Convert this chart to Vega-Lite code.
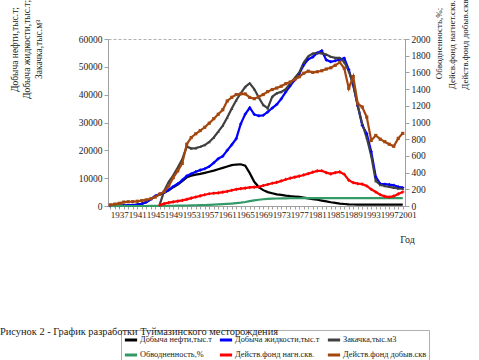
{
  "$schema": "https://vega.github.io/schema/vega-lite/v6.json",
  "width": 297,
  "height": 167,
  "autosize": "none",
  "padding": {"left": 108, "top": 39, "right": 74, "bottom": 154},
  "background": "white",
  "config": {
    "font": "Liberation Serif",
    "view": {"stroke": "#b0b0b0", "strokeDash": [3, 2]}
  },
  "title": {
    "text": "Рисунок 2 - График разработки Туймазинского месторождения",
    "orient": "bottom",
    "anchor": "start",
    "frame": "group",
    "font": "Liberation Serif",
    "fontSize": 10.4,
    "fontWeight": "normal",
    "color": "#222222",
    "dx": -108,
    "dy": -37,
    "offset": 0
  },
  "data": {
    "values": [
      {"y": 1937, "a": 50, "b": 50, "c": null, "d": 0, "e": null, "f": 14},
      {"y": 1938, "a": 80, "b": 80, "c": null, "d": 0, "e": null, "f": 22},
      {"y": 1939, "a": 100, "b": 100, "c": null, "d": 0, "e": null, "f": 32},
      {"y": 1940, "a": 140, "b": 150, "c": null, "d": 0, "e": null, "f": 47},
      {"y": 1941, "a": 190, "b": 200, "c": null, "d": 0, "e": null, "f": 51},
      {"y": 1942, "a": 260, "b": 280, "c": null, "d": 0, "e": null, "f": 52},
      {"y": 1943, "a": 470, "b": 500, "c": null, "d": 0, "e": null, "f": 57},
      {"y": 1944, "a": 760, "b": 800, "c": null, "d": 0, "e": null, "f": 64},
      {"y": 1945, "a": 1350, "b": 1400, "c": null, "d": 0, "e": null, "f": 73},
      {"y": 1946, "a": 2400, "b": 2500, "c": null, "d": 1, "e": null, "f": 86},
      {"y": 1947, "a": 3450, "b": 3600, "c": null, "d": 1, "e": null, "f": 107},
      {"y": 1948, "a": 4150, "b": 4300, "c": 600, "d": 2, "e": 10, "f": 142},
      {"y": 1949, "a": 4750, "b": 4900, "c": 5500, "d": 2, "e": 28, "f": 172},
      {"y": 1950, "a": 5600, "b": 5800, "c": 8700, "d": 3, "e": 40, "f": 240},
      {"y": 1951, "a": 6750, "b": 7000, "c": 11000, "d": 3, "e": 50, "f": 340},
      {"y": 1952, "a": 7700, "b": 8000, "c": 13800, "d": 4, "e": 58, "f": 420},
      {"y": 1953, "a": 8900, "b": 9300, "c": 16800, "d": 5, "e": 68, "f": 510},
      {"y": 1954, "a": 10300, "b": 10800, "c": 21300, "d": 6, "e": 80, "f": 740},
      {"y": 1955, "a": 10900, "b": 11600, "c": 20700, "d": 7, "e": 95, "f": 820},
      {"y": 1956, "a": 11250, "b": 12300, "c": 20800, "d": 9, "e": 108, "f": 865},
      {"y": 1957, "a": 11550, "b": 12900, "c": 21300, "d": 10, "e": 122, "f": 903},
      {"y": 1958, "a": 11900, "b": 13400, "c": 21900, "d": 12, "e": 135, "f": 943},
      {"y": 1959, "a": 12300, "b": 14200, "c": 23000, "d": 14, "e": 147, "f": 992},
      {"y": 1960, "a": 12700, "b": 15500, "c": 24600, "d": 16, "e": 153, "f": 1046},
      {"y": 1961, "a": 13200, "b": 17000, "c": 26700, "d": 19, "e": 158, "f": 1099},
      {"y": 1962, "a": 13700, "b": 17900, "c": 28900, "d": 22, "e": 166, "f": 1153},
      {"y": 1963, "a": 14200, "b": 20000, "c": 31800, "d": 25, "e": 175, "f": 1258},
      {"y": 1964, "a": 14700, "b": 22000, "c": 35000, "d": 29, "e": 188, "f": 1302},
      {"y": 1965, "a": 14900, "b": 24200, "c": 38000, "d": 34, "e": 200, "f": 1335},
      {"y": 1966, "a": 15000, "b": 29500, "c": 40500, "d": 40, "e": 208, "f": 1342},
      {"y": 1967, "a": 14500, "b": 33000, "c": 42800, "d": 48, "e": 215, "f": 1342},
      {"y": 1968, "a": 11800, "b": 35300, "c": 44100, "d": 58, "e": 222, "f": 1300},
      {"y": 1969, "a": 8700, "b": 32900, "c": 42000, "d": 67, "e": 226, "f": 1285},
      {"y": 1970, "a": 6800, "b": 32400, "c": 39000, "d": 75, "e": 230, "f": 1308},
      {"y": 1971, "a": 5700, "b": 32600, "c": 36300, "d": 81, "e": 245, "f": 1335},
      {"y": 1972, "a": 5000, "b": 33800, "c": 35100, "d": 85, "e": 258, "f": 1370},
      {"y": 1973, "a": 4600, "b": 35200, "c": 39300, "d": 88, "e": 272, "f": 1395},
      {"y": 1974, "a": 4200, "b": 36500, "c": 40500, "d": 90, "e": 283, "f": 1413},
      {"y": 1975, "a": 4000, "b": 38500, "c": 41000, "d": 91, "e": 300, "f": 1435},
      {"y": 1976, "a": 3750, "b": 41000, "c": 42000, "d": 92, "e": 318, "f": 1465},
      {"y": 1977, "a": 3550, "b": 43200, "c": 44000, "d": 93, "e": 333, "f": 1485},
      {"y": 1978, "a": 3400, "b": 45300, "c": 46000, "d": 93, "e": 345, "f": 1515},
      {"y": 1979, "a": 3250, "b": 47500, "c": 48000, "d": 93, "e": 357, "f": 1548},
      {"y": 1980, "a": 3000, "b": 50700, "c": 51500, "d": 94, "e": 372, "f": 1590},
      {"y": 1981, "a": 2750, "b": 52700, "c": 53800, "d": 94, "e": 388, "f": 1615},
      {"y": 1982, "a": 2500, "b": 53500, "c": 54800, "d": 94, "e": 405, "f": 1600},
      {"y": 1983, "a": 2250, "b": 55000, "c": 55000, "d": 94, "e": 420, "f": 1608},
      {"y": 1984, "a": 1950, "b": 55800, "c": 54900, "d": 94, "e": 422, "f": 1620},
      {"y": 1985, "a": 1650, "b": 52500, "c": 54400, "d": 94, "e": 400, "f": 1640},
      {"y": 1986, "a": 1350, "b": 51800, "c": 53600, "d": 94, "e": 385, "f": 1655},
      {"y": 1987, "a": 1100, "b": 52200, "c": 53200, "d": 94, "e": 400, "f": 1685},
      {"y": 1988, "a": 850, "b": 52600, "c": 53200, "d": 94, "e": 408, "f": 1720},
      {"y": 1989, "a": 720, "b": 53100, "c": 51700, "d": 94, "e": 380, "f": 1650},
      {"y": 1990, "a": 600, "b": 49000, "c": 48500, "d": 94, "e": 310, "f": 1410},
      {"y": 1991, "a": 540, "b": 43500, "c": 43500, "d": 94, "e": 280, "f": 1550},
      {"y": 1992, "a": 500, "b": 36000, "c": 36000, "d": 94, "e": 268, "f": 1225},
      {"y": 1993, "a": 480, "b": 29000, "c": 29500, "d": 94, "e": 262, "f": 1185},
      {"y": 1994, "a": 480, "b": 26000, "c": 24500, "d": 94, "e": 240, "f": 1065},
      {"y": 1995, "a": 480, "b": 19500, "c": 18000, "d": 94, "e": 200, "f": 785},
      {"y": 1996, "a": 480, "b": 10500, "c": 9000, "d": 94, "e": 168, "f": 845},
      {"y": 1997, "a": 480, "b": 8000, "c": 7600, "d": 94, "e": 135, "f": 800},
      {"y": 1998, "a": 480, "b": 7850, "c": 7200, "d": 94, "e": 115, "f": 770},
      {"y": 1999, "a": 480, "b": 7700, "c": 6900, "d": 94, "e": 107, "f": 740},
      {"y": 2000, "a": 480, "b": 7450, "c": 6600, "d": 94, "e": 118, "f": 715},
      {"y": 2001, "a": 480, "b": 6900, "c": 6300, "d": 94, "e": 145, "f": 810},
      {"y": 2002, "a": 480, "b": 6600, "c": 6200, "d": 94, "e": 168, "f": 870}
    ]
  },
  "transform": [{"fold": ["a", "b", "c", "d", "e", "f"], "as": ["k", "v"]}],
  "encoding": {
    "x": {
      "field": "y",
      "type": "quantitative",
      "scale": {"domain": [1936.5, 2002.5], "nice": false, "zero": false},
      "axis": {
        "title": "Год",
        "titleX": 299,
        "titleY": 36,
        "titleAlign": "center",
        "titleBaseline": "alphabetic",
        "titleFont": "Liberation Serif",
        "titleFontSize": 10,
        "titleFontWeight": "normal",
        "titleColor": "#222222",
        "values": [1937,1938,1939,1940,1941,1942,1943,1944,1945,1946,1947,1948,1949,1950,1951,1952,1953,1954,1955,1956,1957,1958,1959,1960,1961,1962,1963,1964,1965,1966,1967,1968,1969,1970,1971,1972,1973,1974,1975,1976,1977,1978,1979,1980,1981,1982,1983,1984,1985,1986,1987,1988,1989,1990,1991,1992,1993,1994,1995,1996,1997,1998,1999,2000,2001,2002],
        "labelExpr": "(datum.value - 1937) % 4 == 0 ? '' + datum.value : ''",
        "labelAlign": "left",
        "labelFont": "Liberation Serif",
        "labelFontSize": 9,
        "labelColor": "#222222",
        "labelOverlap": false,
        "labelFlush": false,
        "labelBound": false,
        "labelPadding": 1,
        "tickSize": 3,
        "tickColor": "#a0a0a0",
        "domainColor": "#a0a0a0",
        "grid": false
      }
    }
  },
  "layer": [
    {
      "transform": [{"filter": {"field": "k", "oneOf": ["a", "b", "c"]}}],
      "encoding": {
        "y": {
          "field": "v",
          "type": "quantitative",
          "scale": {"domain": [0, 60000], "nice": false},
          "axis": {
            "orient": "left",
            "values": [0, 10000, 20000, 30000, 40000, 50000, 60000],
            "format": "d",
            "grid": false,
            "labelFont": "Liberation Serif",
            "labelFontSize": 9.5,
            "labelColor": "#222222",
            "labelPadding": 2,
            "tickSize": 4,
            "tickColor": "#a0a0a0",
            "domainColor": "#a0a0a0",
            "title": ["Добыча нефти,тыс.т;", "Добыча жидкости,тыс.т;", "Закачка,тыс.м³"],
            "titleAngle": 270,
            "titleX": -99,
            "titleY": 10,
            "titleAlign": "center",
            "titleBaseline": "top",
            "titleFont": "Liberation Serif",
            "titleFontSize": 9.5,
            "titleFontWeight": "normal",
            "titleLineHeight": 12,
            "titleColor": "#222222"
          }
        }
      },
      "layer": [
        {
          "mark": {"type": "line", "strokeWidth": 2.2},
          "encoding": {
            "color": {
              "field": "k",
              "type": "nominal",
              "scale": {"domain": ["a", "b", "c", "d", "e", "f"], "range": ["#000000", "#0000ff", "#404040", "#339966", "#ff0000", "#a3470f"]},
              "legend": {
                "orient": "none",
                "legendX": 13,
                "legendY": 291,
                "direction": "horizontal",
                "columns": 3,
                "gridAlign": "each",
                "title": null,
                "symbolType": "stroke",
                "symbolSize": 150,
                "symbolStrokeWidth": 3,
                "labelFont": "Liberation Serif",
                "labelFontSize": 8.3,
                "labelColor": "#222222",
                "strokeColor": "#b0b0b0",
                "padding": 2,
                "rowPadding": 1,
                "columnPadding": 1,
                "labelOffset": 1,
                "labelLimit": 200,
                "labelExpr": "datum.label == 'a' ? 'Добыча нефти,тыс.т' : datum.label == 'b' ? 'Добыча жидкости,тыс.т' : datum.label == 'c' ? 'Закачка,тыс.м3' : datum.label == 'd' ? 'Обводненность,%' : datum.label == 'e' ? 'Действ.фонд нагн.скв.' : 'Действ.фонд добыв.скв'"
              }
            }
          }
        },
        {
          "transform": [{"filter": {"field": "k", "oneOf": ["b", "c"]}}],
          "mark": {"type": "point", "filled": true, "size": 9, "opacity": 1},
          "encoding": {
            "color": {"field": "k", "type": "nominal", "scale": {"domain": ["a", "b", "c", "d", "e", "f"], "range": ["#000000", "#0000ff", "#404040", "#339966", "#ff0000", "#a3470f"]}},
            "shape": {"field": "k", "type": "nominal", "scale": {"domain": ["b", "c", "e", "f"], "range": ["cross", "triangle-up", "cross", "square"]}, "legend": null}
          }
        }
      ]
    },
    {
      "transform": [{"filter": {"field": "k", "oneOf": ["d", "e", "f"]}}],
      "encoding": {
        "y": {
          "field": "v",
          "type": "quantitative",
          "scale": {"domain": [0, 2000], "nice": false},
          "axis": {
            "orient": "right",
            "values": [0, 200, 400, 600, 800, 1000, 1200, 1400, 1600, 1800, 2000],
            "format": "d",
            "grid": false,
            "labelFont": "Liberation Serif",
            "labelFontSize": 9.5,
            "labelColor": "#222222",
            "labelPadding": 2,
            "tickSize": 4,
            "tickColor": "#a0a0a0",
            "domainColor": "#a0a0a0",
            "title": ["Обводненность,%;", "Дейсв.фонд нагнет.скв.;", "Действ.фонд добыв.скв."],
            "titleAngle": 270,
            "titleX": 29,
            "titleY": 4,
            "titleAlign": "center",
            "titleBaseline": "top",
            "titleFont": "Liberation Serif",
            "titleFontSize": 9,
            "titleFontWeight": "normal",
            "titleLineHeight": 13,
            "titleColor": "#222222"
          }
        }
      },
      "layer": [
        {
          "mark": {"type": "line", "strokeWidth": 2.2},
          "encoding": {
            "color": {"field": "k", "type": "nominal", "scale": {"domain": ["a", "b", "c", "d", "e", "f"], "range": ["#000000", "#0000ff", "#404040", "#339966", "#ff0000", "#a3470f"]}}
          }
        },
        {
          "transform": [{"filter": {"field": "k", "oneOf": ["e", "f"]}}],
          "mark": {"type": "point", "filled": true, "size": 10, "opacity": 1},
          "encoding": {
            "color": {"field": "k", "type": "nominal", "scale": {"domain": ["a", "b", "c", "d", "e", "f"], "range": ["#000000", "#0000ff", "#404040", "#339966", "#ff0000", "#a3470f"]}},
            "shape": {"field": "k", "type": "nominal", "scale": {"domain": ["b", "c", "e", "f"], "range": ["cross", "triangle-up", "cross", "square"]}, "legend": null}
          }
        }
      ]
    }
  ],
  "resolve": {"scale": {"y": "independent"}}
}
